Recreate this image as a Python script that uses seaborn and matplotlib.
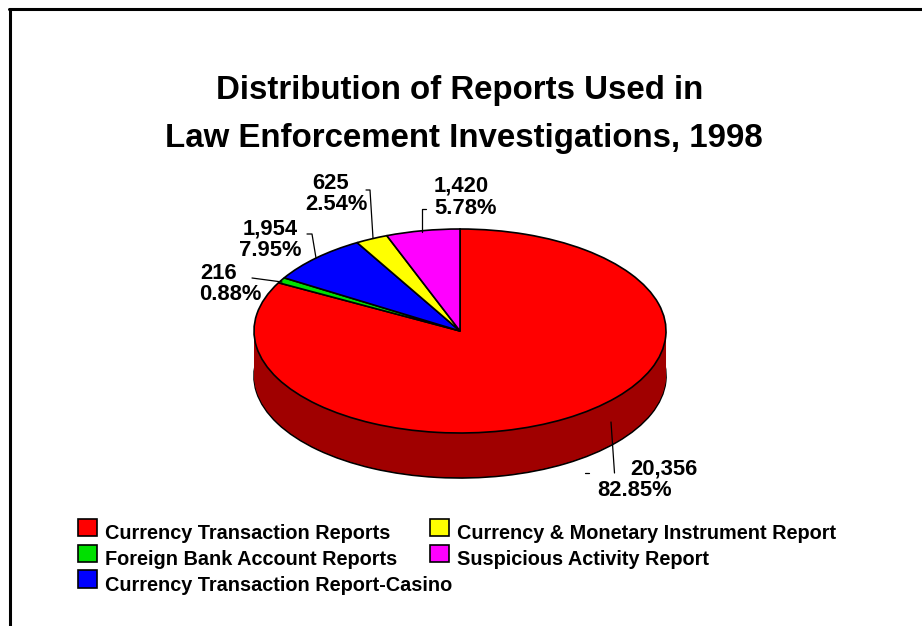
import matplotlib
matplotlib.use('Agg')
import matplotlib.pyplot as plt
import seaborn as sns

categories = ['Currency Transaction Reports', 'Foreign Bank Account Reports',
              'Currency Transaction Report-Casino', 'Currency & Monetary Instrument Report',
              'Suspicious Activity Report']
reports = [20356, 216, 1954, 625, 1420]
percents = ['82.85%', '0.88%', '7.95%', '2.54%', '5.78%']
counts = ['20,356', '216', '1,954', '625', '1,420']

top_colors = ['#FF0000', '#00E000', '#0000FF', '#FFFF00', '#FF00FF']
side_colors = ['#A00000', '#008000', '#000090', '#909000', '#900090']

W, H = 922, 626
CX, CY, RX, RY, DEPTH = 460, 331, 206, 102, 45

sns.set_theme(style='white')
plt.rcParams['font.family'] = ['Liberation Sans', 'DejaVu Sans']
plt.rcParams['font.weight'] = 'bold'

fig = plt.figure(figsize=(W / 100, H / 100), dpi=100)
ax = fig.add_axes([0, 0, 1, 1])


def fx(x):
    return x / W


def fy(y):
    return 1 - y / H


# side of the pie, stacked pies going down
step = 1 / RY
for k in range(DEPTH, 0, -1):
    ax.pie(reports, colors=side_colors, startangle=90, counterclock=False,
           center=(0, -k * step), wedgeprops={'linewidth': 1.2 if k == DEPTH else 0, 'edgecolor': 'black'})

wedges, _ = ax.pie(reports, colors=top_colors, startangle=90, counterclock=False,
                   wedgeprops={'linewidth': 1.2, 'edgecolor': 'black'})

ax.set_aspect('auto')
ax.set_xlim(-CX / RX, (W - CX) / RX)
ax.set_ylim(-(H - CY) / RY, CY / RY)

# frame: only top and left are there
fig.add_artist(plt.Line2D([fx(9), 1], [fy(9), fy(9)], color='black', lw=2.2))
fig.add_artist(plt.Line2D([fx(10), fx(10)], [fy(9), 0], color='black', lw=2.2))

fig.text(fx(460), fy(90), 'Distribution of Reports Used in', ha='center', va='center',
         fontsize=23.8, fontweight='bold', color='black')
fig.text(fx(464), fy(138), 'Law Enforcement Investigations, 1998', ha='center', va='center',
         fontsize=23.8, fontweight='bold', color='black')

# value labels: count line and percent line
label_pos = [((630, 469), (597, 490)), ((200, 273), (199, 294)), ((243, 229), (239, 250)),
             ((312, 183), (305, 204)), ((434, 186), (434, 208))]
for cnt, pct, (p1, p2) in zip(counts, percents, label_pos):
    fig.text(fx(p1[0]), fy(p1[1]), cnt, ha='left', va='center', fontsize=15.8, fontweight='bold', color='black')
    fig.text(fx(p2[0]), fy(p2[1]), pct, ha='left', va='center', fontsize=15.8, fontweight='bold', color='black')

leaders = [[(611, 422), (614.5, 473)], [(585, 472.5), (589, 472.5)], [(252, 278), (282, 282)],
           [(307, 234), (312, 234), (316, 258)], [(366, 190), (370, 190), (373, 238)],
           [(426, 209), (422, 209), (422, 232)]]
for pts in leaders:
    fig.add_artist(plt.Line2D([fx(p[0]) for p in pts], [fy(p[1]) for p in pts], color='black', lw=0.9))

# columns overlap in the original, hence the negative spacing
leg = ax.legend(wedges, categories, ncol=2, loc='upper left', bbox_to_anchor=(fx(74), fy(520)),
                bbox_transform=fig.transFigure, frameon=False, fontsize=14.3, labelspacing=0.32,
                handlelength=0.95, handleheight=0.95, handletextpad=0.4, columnspacing=-1.09,
                borderpad=0.2, borderaxespad=0, labelcolor='black')
for t in leg.get_texts():
    t.set_fontweight('bold')
for h in leg.legend_handles:
    h.set_y(h.get_y() + 3.6)

fig.savefig('out.png', dpi=100, facecolor='white')
